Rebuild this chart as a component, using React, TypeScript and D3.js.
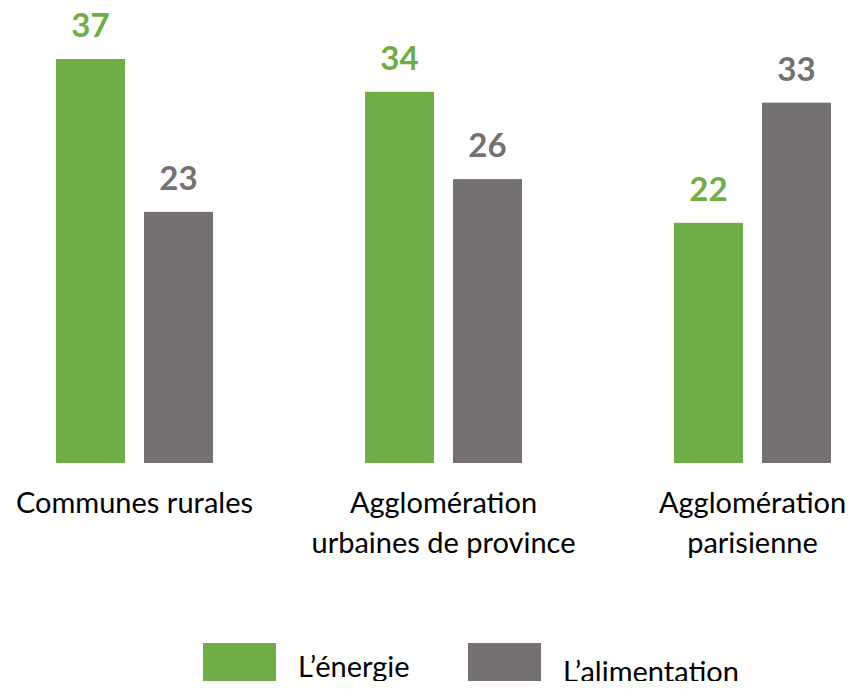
import React from "react";
import * as d3 from "d3";

const categories = ["Communes rurales", "Agglomération\nurbaines de province", "Agglomération\nparisienne"];
const series = ["L’énergie", "L’alimentation"];
const energie = [37, 34, 22];
const alimentation = [23, 26, 33];
const colors = ["#70AD47", "#767171"];

const width = 853;
const height = 689;
const font = "Lato, 'Open Sans', sans-serif";

export default function App() {
  const x = d3
    .scaleBand()
    .domain(categories)
    .range([56, 831])
    .paddingInner(0.492)
    .paddingOuter(0);

  const x1 = d3
    .scaleBand()
    .domain(series)
    .range([0, x.bandwidth()])
    .paddingInner(0.216);

  const y = d3.scaleLinear().domain([0, 37]).range([463, 59]);

  const values = [energie, alimentation];

  return (
    <svg width={width} height={height} style={{ display: "block", margin: "-8px" }}>
      <rect width={width} height={height} fill="#fff" />
      {categories.map((c, ci) => (
        <g key={c} transform={`translate(${x(c)},0)`}>
          {series.map((s, si) => {
            const v = values[si][ci];
            const bx = x1(s)!;
            return (
              <g key={s}>
                <rect
                  x={bx}
                  y={y(v)}
                  width={x1.bandwidth()}
                  height={y(0) - y(v)}
                  fill={colors[si]}
                />
                <text
                  x={bx + x1.bandwidth() / 2}
                  y={y(v) - 22}
                  textAnchor="middle"
                  fontFamily={font}
                  fontWeight="bold"
                  fontSize={33}
                  fill={colors[si]}
                >
                  {v}
                </text>
              </g>
            );
          })}
          {c.split("\n").map((line, li) => (
            <text
              key={li}
              x={x.bandwidth() / 2}
              y={513 + li * 40}
              textAnchor="middle"
              fontFamily={font}
              fontSize={29}
              fill="#000"
            >
              {line}
            </text>
          ))}
        </g>
      ))}
      {series.map((s, si) => {
        const lx = [203, 468][si];
        return (
          <g key={s}>
            <rect x={lx} y={643} width={73} height={50} fill={colors[si]} />
            <text
              x={lx + 95}
              y={[677, 682][si]}
              fontFamily={font}
              fontSize={29}
              fill="#000"
            >
              {s}
            </text>
          </g>
        );
      })}
    </svg>
  );
}
